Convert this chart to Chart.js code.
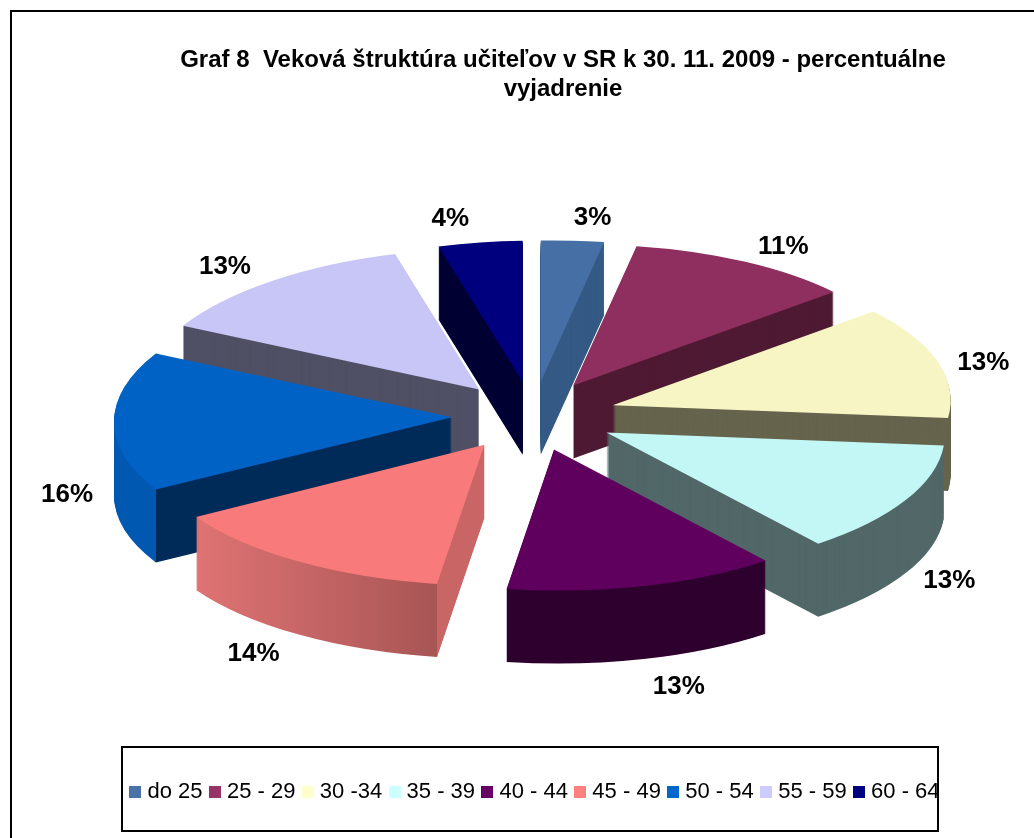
<!DOCTYPE html>
<html><head><meta charset="utf-8">
<style>html,body{margin:0;padding:0;background:#fff;overflow:hidden}canvas{display:block}</style>
<script src="https://cdn.jsdelivr.net/npm/chart.js@4/dist/chart.umd.js"></script>
</head><body>
<div style="width:1034px;height:838px;position:relative"><canvas id="c" width="1034" height="838"></canvas></div>
<script>
const categories = ['do 25','25 - 29','30 -34','35 - 39','40 - 44','45 - 49','50 - 54','55 - 59','60 - 64'];
const shares = [3,11,13,13,13,14,16,13,4];
const titleLines = ['Graf 8  Veková štruktúra učiteľov v SR k 30. 11. 2009 - percentuálne','vyjadrenie'];
const topColors = ['#4670a5','#8f2f5f','#f7f5c3','#c3f7f6','#5f005f','#f87a7a','#0062c4','#c7c6f6','#00007f'];
const legendColors = ['#4a72a8','#993366','#ffffcc','#ccffff','#660066','#ff8080','#0066cc','#ccccff','#000080'];
const wallColors = ['#345a85','#4f1a33','#66644d','#526868','#2e002e','#c96565','#002a58','#505065','#000033'];
const rimColors = ['#345a85','#4f1a33','#66644d','#526868','#2e002e',null,'#0058b0','#505065','#000033'];
const labelNudges = [[20,-23],[36,-18],[46,-4],[54,75],[54,99],[-32,96],[-45,79],[-50,-10],[-30,-23]];
// the reference's projection leans its front slices to the right
const sliceShear = [0,0,0,0.048,0.048,0.048,0,0,0];
const sliceShift = [0,-2,0,0,-1,-3,2,-3,0];

const PIE = {cx:533, cy:416, R:338, squash:0.417, shearY:-0.0145, explode:83, depth:73};

const swatch = colors => { const c = document.createElement('canvas'); c.width = 12; c.height = 12;
  const g = c.getContext('2d'); g.fillStyle = colors; g.fillRect(0,0,12,12); return c; };

function wallFill(ctx, arc, i){
  if (rimColors[i]) {
    const c = rimColors[i];
    if (c === wallColors[i]) return c;
    // outer rim and radial face meet at the slice's starting corner
    const xc = arc.x + PIE.R*Math.cos(arc.startAngle);
    const g = ctx.createLinearGradient(arc.x - PIE.R, 0, arc.x, 0);
    const t = (xc-(arc.x-PIE.R))/PIE.R;
    g.addColorStop(0,c); g.addColorStop(t,c); g.addColorStop(t,wallColors[i]); g.addColorStop(1,wallColors[i]);
    return g;
  }
  const x0 = arc.x + PIE.R*Math.cos(arc.endAngle), x1 = arc.x + PIE.R*Math.cos(arc.startAngle);
  const g = ctx.createLinearGradient(x0,0,arc.x,0);
  const t = (x1-x0)/(arc.x-x0);
  g.addColorStop(0,'#df7373'); g.addColorStop(t,'#a85555'); g.addColorStop(t,wallColors[i]); g.addColorStop(1,wallColors[i]);
  return g;
}

function drawSlice(ctx, arc, i, fill, dy){
  const ghost = Object.create(arc);
  ghost.options = Object.assign({}, arc.options, {backgroundColor:fill, borderWidth:0, offset:0});
  const mid = (arc.startAngle+arc.endAngle)/2;
  ctx.save();
  ctx.translate(PIE.cx + sliceShift[i], PIE.cy+dy);
  ctx.transform(1, PIE.shearY, sliceShear[i], PIE.squash, 0, 0);
  ctx.translate(-arc.x, -arc.y);
  ctx.translate(Math.cos(mid)*PIE.explode, Math.sin(mid)*PIE.explode);
  arc.draw.call(ghost, ctx);
  ctx.restore();
}

const pie3d = {
  id:'pie3d',
  afterLayout(chart){
    // the title sits right of the page centre, the legend slightly so
    const t = chart.titleBlock; t.left += 46; t.right += 46;
    const l = chart.legend; l.left += 20; l.right += 20;
    l.legendHitBoxes.forEach(b=>{b.left+=20;});
  },
  beforeDatasetDraw(chart, args){
    const ctx = chart.ctx, arcs = args.meta.data;
    const order = arcs.map((a,i)=>i).sort((a,b)=>{
      const m = x => Math.sin((arcs[x].startAngle+arcs[x].endAngle)/2);
      return m(a)-m(b);
    });
    order.forEach(i=>{
      const arc = arcs[i], fill = wallFill(ctx, arc, i);
      for (let d = PIE.depth; d > 0; d--) drawSlice(ctx, arc, i, fill, d);
      drawSlice(ctx, arc, i, topColors[i], 0);
    });
    return false;
  },
  afterDatasetsDraw(chart){
    const ctx = chart.ctx, arcs = chart.getDatasetMeta(0).data;
    ctx.save();
    ctx.fillStyle = '#000';
    ctx.font = 'bold 26px "Liberation Sans"';
    ctx.textAlign = 'center'; ctx.textBaseline = 'middle';
    arcs.forEach((arc,i)=>{
      const mid = (arc.startAngle+arc.endAngle)/2;
      const r = PIE.R + PIE.explode;
      const x = PIE.cx + Math.cos(mid)*r + labelNudges[i][0];
      const y = PIE.cy + Math.sin(mid)*r*PIE.squash + labelNudges[i][1];
      ctx.fillText(shares[i]+'%', x, y);
    });
    ctx.restore();
  },
  afterDraw(chart){
    const ctx = chart.ctx;
    ctx.save();
    ctx.strokeStyle = '#000'; ctx.lineWidth = 2;
    ctx.beginPath();
    ctx.moveTo(11,838); ctx.lineTo(11,11); ctx.lineTo(1034,11);
    ctx.stroke();
    ctx.strokeRect(122,747,816,84);
    ctx.restore();
  }
};

new Chart(document.getElementById('c'), {
  type:'pie',
  data:{labels:categories, datasets:[{data:shares, backgroundColor:topColors, borderWidth:0, hoverOffset:0, radius:338}]},
  plugins:[pie3d],
  options:{
    responsive:false, animation:false,
    events:[],
    layout:{padding:{top:46,bottom:25}},
    plugins:{
      tooltip:{enabled:false},
      title:{display:true, text:titleLines, color:'#000', padding:0,
        font:{family:'"Liberation Sans"', size:24, weight:'bold', lineHeight:1.2}},
      legend:{position:'bottom', labels:{
        font:{family:'"Liberation Sans"', size:22}, color:'#000',
        usePointStyle:true, pointStyleWidth:2, boxWidth:2, padding:11.4,
        generateLabels:()=>categories.map((t,i)=>({text:t, fillStyle:legendColors[i], strokeStyle:legendColors[i], lineWidth:0, hidden:false, index:i, pointStyle:swatch(legendColors[i])}))
      }}
    }
  }
});
</script></body></html>
